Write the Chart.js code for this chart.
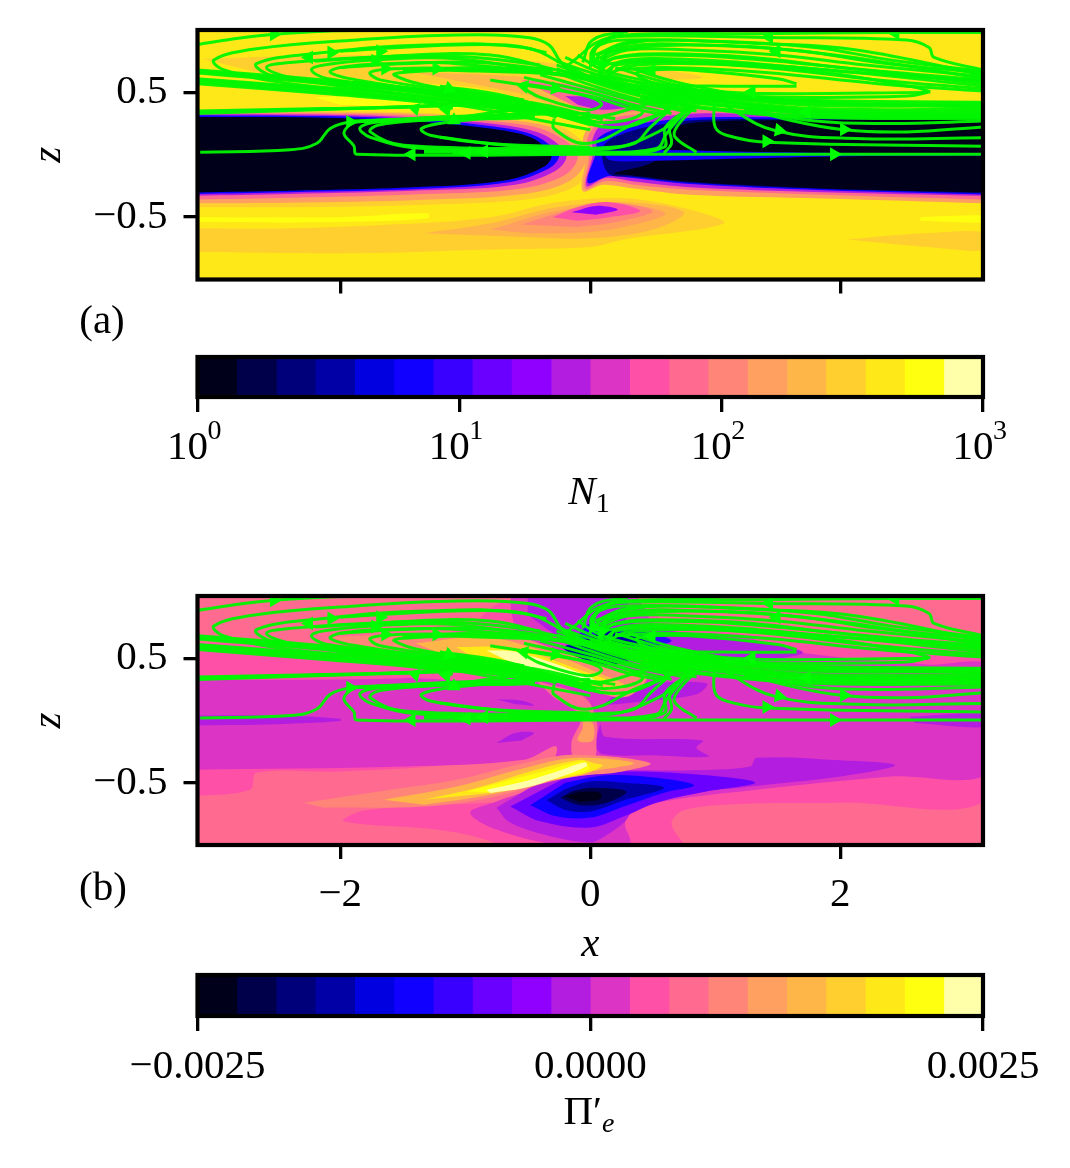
<!DOCTYPE html>
<html>
<head>
<meta charset="utf-8">
<script src="https://cdn.jsdelivr.net/npm/chart.js@4"></script>
<style>
  html, body { margin: 0; background: #fff; }
  #page { position: relative; width: 1070px; height: 1168px; overflow: hidden; }
  canvas { position: absolute; left: 0; }
  .lbl { position: absolute; font: 41px "Liberation Serif", serif; line-height: 40px; color: #000; white-space: nowrap; transform: translateX(-50%); }
  .lbl i { font-style: italic; }
  .lbl sub { font-size: 28px; line-height: 0; vertical-align: -8px; }
</style>
</head>
<body>
<div id="page">
  <canvas id="panelA" width="1070" height="340" style="top:0"></canvas>
  <canvas id="barA" width="1070" height="180" style="top:340px"></canvas>
  <canvas id="panelB" width="1070" height="410" style="top:560px"></canvas>
  <canvas id="barB" width="1070" height="168" style="top:970px"></canvas>
  <div class="lbl" style="left:102px;top:299px">(a)</div>
  <div class="lbl" style="left:103px;top:866px">(b)</div>
  <div class="lbl" style="left:589px;top:470px"><i>N</i><sub>1</sub></div>
  <div class="lbl" style="left:589px;top:1090px">Π′<sub><i>e</i></sub></div>
</div>
<script>
// 20 contour levels
const levelColors = ["#00001a", "#00004a", "#00007a", "#0000a6", "#0000e0", "#1000ff", "#3a00ff", "#6a00ff", "#8f00ff", "#b31de0",
  "#dc35c5", "#ff50a8", "#ff6a90", "#ff8578", "#ff9f60", "#ffb648", "#ffcf30", "#ffe818", "#ffff10", "#ffffaa"];
const edgesN1 = [1, 1.41, 2, 2.82, 3.98, 5.62, 7.94, 11.2, 15.8, 22.4, 31.6, 44.7, 63.1, 89.1, 126, 178, 251, 355, 501, 708, 1000];
const edgesPi = [-0.0025, -0.00225, -0.002, -0.00175, -0.0015, -0.00125, -0.001, -0.00075, -0.0005, -0.00025, 1e-9,
  0.00025, 0.0005, 0.00075, 0.001, 0.00125, 0.0015, 0.00175, 0.002, 0.00225, 0.0025];

const xTicks = [-2, 0, 2];
const zTicks = [-0.5, 0.5];
const ticksN1 = [1, 10, 100, 1000];
const labelsN1 = ["10", "10", "10", "10"];
const powersN1 = ["0", "1", "2", "3"];
const ticksPi = [-0.0025, 0, 0.0025];
const labelsPi = ["−0.0025", "0.0000", "0.0025"];

const field = [[-3.3, 1.1], [3.3, 1.1], [3.3, -1.1], [-3.3, -1.1]];

// panel (a): contour outlines in (x, z), painted in this order
const contoursA = [
  [17, field],
  // below the band
  [18, [[-3.2, -0.5], [-2, -0.5], [-1.3, -0.47], [-1.3, -0.51], [-2, -0.54], [-3.2, -0.54]]],
  [18, [[2.64, -0.5], [3.2, -0.49], [3.2, -0.54], [2.64, -0.53]]],
  [16, [[-3.2, -0.59], [-2.4, -0.59], [-1.6, -0.56], [-0.8, -0.5], [-0.27, -0.38], [0.3, -0.35], [0.8, -0.44], [1.07, -0.55], [0.27, -0.68], [0, -0.74], [-0.8, -0.76], [-1.87, -0.79], [-3.2, -0.78]]],
  [16, [[2.05, -0.68], [2.67, -0.63], [3.2, -0.63], [3.2, -0.76], [2.67, -0.74]]],
  [15, [[-1.33, -0.63], [-0.8, -0.55], [-0.27, -0.42], [0.3, -0.38], [0.75, -0.46], [0.5, -0.6], [0, -0.67], [-0.53, -0.66]]],
  [14, [[-0.8, -0.6], [-0.27, -0.45], [0.3, -0.4], [0.6, -0.47], [0.35, -0.56], [0, -0.62], [-0.5, -0.63]]],
  [13, [[-0.55, -0.56], [-0.27, -0.47], [0.1, -0.38], [0.5, -0.45], [0.2, -0.54], [-0.1, -0.58]]],
  [11, [[-0.3, -0.5], [-0.1, -0.42], [0.15, -0.38], [0.4, -0.45], [0.15, -0.5], [-0.1, -0.53]]],
  [8, [[-0.15, -0.46], [0.05, -0.41], [0.22, -0.44], [0.05, -0.48]]],
  // above the band
  [16, [[-3.1, 0.77], [-2, 0.8], [-1, 0.78], [-0.2, 0.72], [0.2, 0.6], [0.6, 0.42], [0.9, 0.35], [0.6, 0.3], [0.2, 0.25], [-0.1, 0.3], [-0.3, 0.35], [-0.8, 0.52], [-1.5, 0.58], [-2.5, 0.62]]],
  [16, [[0.13, 0.68], [0.5, 0.69], [0.9, 0.62], [0.5, 0.6], [0.2, 0.62]]],
  [18, [[-2.2, 0.46], [-1.4, 0.49], [-0.8, 0.44], [-0.55, 0.4], [-1.1, 0.37], [-2, 0.4]]],
  [15, [[-1.4, 0.66], [-0.8, 0.64], [-0.3, 0.6], [0.1, 0.52], [0.6, 0.4], [0.85, 0.34], [0.5, 0.3], [0.1, 0.28], [-0.2, 0.35], [-0.5, 0.48]]],
  [12, [[-0.55, 0.6], [-0.2, 0.57], [0.2, 0.5], [0.6, 0.38], [0.8, 0.34], [0.5, 0.3], [0.1, 0.3], [-0.15, 0.4]]],
  [9, [[-0.2, 0.47], [0.05, 0.46], [0.32, 0.39], [0.1, 0.36], [-0.1, 0.4]]],
  // left lobe of the band, outside in
  [16, [[-3.2, 0.35], [-2.13, 0.35], [-1.33, 0.335], [-0.8, 0.3], [-0.3, 0.25], [-0.05, 0.1], [0.03, -0.05], [-0.1, -0.24], [-0.45, -0.35], [-1.33, -0.4], [-2.4, -0.42], [-3.2, -0.42]]],
  [14, [[-3.2, 0.345], [-2.13, 0.34], [-1.33, 0.325], [-0.8, 0.29], [-0.35, 0.23], [-0.1, 0.1], [-0.03, -0.03], [-0.15, -0.2], [-0.5, -0.31], [-1.33, -0.36], [-2.4, -0.385], [-3.2, -0.39]]],
  [12, [[-3.2, 0.335], [-2.13, 0.33], [-1.33, 0.31], [-0.8, 0.27], [-0.4, 0.21], [-0.17, 0.09], [-0.1, -0.02], [-0.2, -0.16], [-0.55, -0.27], [-1.33, -0.315], [-2.4, -0.345], [-3.2, -0.36]]],
  [9, [[-3.2, 0.325], [-2.13, 0.32], [-1.33, 0.295], [-0.8, 0.25], [-0.42, 0.18], [-0.24, 0.07], [-0.19, -0.02], [-0.28, -0.13], [-0.6, -0.24], [-1.33, -0.285], [-2.4, -0.315], [-3.2, -0.33]]],
  [5, [[-3.2, 0.318], [-2.13, 0.31], [-1.33, 0.28], [-0.8, 0.23], [-0.47, 0.165], [-0.3, 0.06], [-0.25, -0.017], [-0.33, -0.11], [-0.65, -0.22], [-1.33, -0.272], [-2.4, -0.3], [-3.2, -0.315]]],
  [0, [[-3.2, 0.303], [-2.13, 0.297], [-1.33, 0.263], [-0.8, 0.21], [-0.48, 0.143], [-0.35, 0.049], [-0.31, -0.017], [-0.37, -0.097], [-0.67, -0.204], [-1.33, -0.257], [-2.4, -0.289], [-3.2, -0.303]]],
  // right lobe
  [14, [[3.2, 0.34], [1.6, 0.34], [0.9, 0.38], [0.5, 0.36], [0.1, 0.3], [-0.05, 0.16], [-0.04, -0.05], [-0.06, -0.29], [0.1, -0.24], [0.35, -0.27], [0.8, -0.32], [1.87, -0.35], [3.2, -0.39]]],
  [12, [[3.2, 0.33], [1.6, 0.33], [0.85, 0.36], [0.45, 0.33], [0.1, 0.27], [-0.02, 0.14], [-0.01, -0.03], [-0.04, -0.27], [0.12, -0.21], [0.35, -0.24], [0.8, -0.28], [1.87, -0.32], [3.2, -0.36]]],
  [9, [[3.2, 0.32], [1.6, 0.32], [0.85, 0.33], [0.45, 0.29], [0.1, 0.24], [0.02, 0.13], [0.02, 0], [-0.03, -0.25], [0.13, -0.185], [0.35, -0.215], [0.8, -0.26], [1.87, -0.3], [3.2, -0.33]]],
  [5, [[3.2, 0.31], [1.6, 0.3], [0.9, 0.3], [0.55, 0.27], [0.25, 0.22], [0.06, 0.13], [0.05, 0.03], [-0.02, -0.225], [0.15, -0.17], [0.32, -0.185], [0.8, -0.235], [1.87, -0.285], [3.2, -0.32]]],
  [2, [[3.2, 0.295], [1.6, 0.285], [0.88, 0.28], [0.55, 0.24], [0.3, 0.18], [0.12, 0.09], [0.1, -0.05], [0.16, -0.16], [0.32, -0.175], [0.8, -0.225], [1.87, -0.275], [3.2, -0.31]]],
  [0, [[3.2, 0.29], [1.6, 0.276], [0.88, 0.26], [0.64, 0.196], [0.53, -0.04], [0.19, -0.15], [0.32, -0.164], [0.8, -0.217], [1.87, -0.27], [3.2, -0.303]]],
  [5, [[3.2, 0.01], [2.2, 0.012], [1.5, 0.02], [0.12, 0.03], [0.15, -0.04], [0.4, -0.05], [1.2, -0.03], [2.2, -0.01], [3.2, -0.005]]]
];

// panel (b)
const contoursB = [
  [12, field],
  [11, [[-3.2, 0.63], [-2.4, 0.6], [-1.6, 0.62], [-1, 0.75], [-0.7, 0.95], [0.2, 1.05], [0.6, 0.8], [1, 0.72], [1.6, 0.66], [2.4, 0.58], [3.2, 0.56], [3.2, -0.61], [2, -0.66], [1.2, -0.67], [0.75, -0.72], [0.65, -0.83], [0.75, -1.05], [-3.2, -1.05]]],
  [12, [[-3.2, -0.61], [-2.72, -0.556], [-2.67, -0.42], [-2, -0.41], [-1.07, -0.35], [-0.5, -0.24], [-0.2, -0.15], [0.05, -0.1], [-0.1, -0.62], [-0.8, -0.66], [-1.8, -0.72], [-1.97, -0.81], [-1.2, -0.88], [-0.8, -0.97], [-0.7, -1.05], [-3.2, -1.05]]],
  [10, [[-3.2, 0.325], [-1.5, 0.34], [-0.6, 0.4], [-0.6, 1.05], [0.3, 1.05], [0.55, 0.75], [1.2, 0.68], [1.65, 0.55], [2.7, 0.45], [3.2, 0.42], [3.2, -0.405], [2.4, -0.45], [1.33, -0.556], [0.53, -0.66], [0.3, -0.75], [0.28, -0.85], [0.32, -0.96], [0.3, -1.05], [-0.27, -1], [-0.75, -0.876], [-0.96, -0.74], [-0.75, -0.65], [-0.4, -0.5], [-0.27, -0.21], [-0.53, -0.316], [-1.5, -0.37], [-3.2, -0.396]]],
  // small purple patches
  [9, [[-3.2, 0.04], [-2.5, 0.04], [-2, 0.015], [-2, -0.005], [-2.5, -0.03], [-3.2, -0.04]]],
  [9, [[2.55, 0.03], [3.2, 0.05], [3.2, -0.05], [2.6, -0.02]]],
  [9, [[-0.75, 0.17], [-0.55, 0.16], [-0.45, 0.12], [-0.6, 0.13]]],
  [9, [[-0.75, -0.18], [-0.6, -0.1], [-0.45, -0.1], [-0.55, -0.16]]],
  [9, [[0.08, -0.03], [0.12, -0.13], [0.9, -0.16], [0.85, -0.22], [0.95, -0.29], [0.5, -0.28], [0.1, -0.27], [0.03, -0.2]]],
  [9, [[0.3, 0.3], [0.93, 0.3], [0.85, 0.21], [0.4, 0.15], [0.1, 0.12]]],
  // top centre
  [9, [[-0.5, 1.05], [0.3, 1.05], [0.3, 0.8], [1, 0.68], [1.7, 0.55], [1.2, 0.47], [0.5, 0.5], [0.15, 0.45], [-0.1, 0.55], [-0.3, 0.7], [-0.5, 0.85]]],
  [6, [[-0.1, 0.68], [0, 0.78], [0.1, 0.75], [0.4, 0.72], [0.65, 0.64], [0.4, 0.58], [0.2, 0.6], [0, 0.45], [-0.1, 0.55]]],
  [3, [[0, 0.66], [0.1, 0.72], [0.25, 0.7], [0.45, 0.63], [0.3, 0.6], [0.15, 0.62], [0.05, 0.5], [-0.2, 0.6]]],
  [3, [[-0.25, 0.6], [0.05, 0.58], [0.3, 0.48], [0.1, 0.45], [-0.1, 0.5]]],
  // dark blob, outside in
  [9, [[-0.75, -0.7], [-0.64, -0.82], [-0.32, -0.93], [0, -0.98], [0.1, -0.94], [0.27, -0.82], [0.35, -0.72], [0.64, -0.61], [1.28, -0.53], [2, -0.45], [2.44, -0.36], [2, -0.32], [1.33, -0.3], [1.28, -0.37], [0.8, -0.4], [0.3, -0.4], [-0.2, -0.42], [-0.5, -0.55]]],
  [7, [[-0.64, -0.69], [-0.4, -0.81], [0, -0.86], [0.27, -0.77], [0.53, -0.66], [0.93, -0.57], [1.32, -0.5], [0.93, -0.44], [0.27, -0.41], [-0.2, -0.46]]],
  [5, [[-0.48, -0.68], [-0.27, -0.77], [0, -0.78], [0.27, -0.69], [0.59, -0.58], [0.83, -0.52], [0.53, -0.46], [0.13, -0.44], [-0.2, -0.5]]],
  [3, [[-0.35, -0.64], [-0.19, -0.72], [0, -0.73], [0.27, -0.64], [0.59, -0.54], [0.27, -0.5], [0, -0.49], [-0.2, -0.55]]],
  [1, [[-0.24, -0.62], [-0.08, -0.68], [0.13, -0.66], [0.29, -0.57], [0, -0.54], [-0.15, -0.57]]],
  [0, [[-0.2, -0.61], [-0.08, -0.575], [0.08, -0.58], [0.08, -0.63], [-0.08, -0.655]]],
  // column between the two ridges
  [12, [[-0.43, 0.32], [-0.05, 0.19], [0.05, 0], [0.05, -0.16], [0.03, -0.3], [-0.12, -0.32], [-0.15, -0.18], [-0.08, 0.03], [-0.3, 0.19]]],
  [14, [[-0.06, 0], [0.02, -0.02], [0.02, -0.16], [-0.1, -0.16], [-0.06, -0.06]]],
  // lower ridge
  [13, [[-2.29, -0.66], [-1.6, -0.556], [-1.07, -0.476], [-0.53, -0.343], [-0.13, -0.276], [0.48, -0.343], [0.2, -0.42], [0, -0.436], [-0.27, -0.48], [-0.8, -0.62], [-1.33, -0.69], [-2.13, -0.7]]],
  [15, [[-1.65, -0.636], [-1.07, -0.53], [-0.53, -0.383], [-0.11, -0.3], [0.35, -0.343], [0, -0.41], [-0.27, -0.463], [-0.8, -0.596], [-1.33, -0.676]]],
  [17, [[-1.33, -0.636], [-0.91, -0.543], [-0.48, -0.41], [-0.08, -0.316], [0.03, -0.343], [0.1, -0.36], [-0.03, -0.423], [-0.37, -0.49], [-0.8, -0.583]]],
  [18, [[-0.99, -0.57], [-0.72, -0.5], [-0.37, -0.41], [-0.05, -0.33], [-0.01, -0.396], [-0.37, -0.476], [-0.8, -0.577]]],
  [19, [[-0.83, -0.556], [-0.53, -0.49], [-0.27, -0.41], [-0.04, -0.335], [-0.03, -0.37], [-0.27, -0.463], [-0.53, -0.543], [-0.8, -0.583]]],
  // upper ridge
  [13, [[-2.08, 0.67], [-1.33, 0.7], [-0.67, 0.7], [-0.4, 0.617], [0.13, 0.43], [0.45, 0.35], [0.29, 0.19], [0, 0.244], [-0.27, 0.35], [-0.8, 0.47], [-1.87, 0.6]]],
  [15, [[-1.4, 0.62], [-0.85, 0.67], [-0.4, 0.564], [0.08, 0.377], [0.29, 0.27], [-0.05, 0.257], [-0.53, 0.38], [-1.2, 0.54]]],
  [17, [[-1.07, 0.59], [-0.61, 0.577], [0, 0.377], [0.13, 0.32], [-0.13, 0.297], [-0.67, 0.43], [-0.99, 0.54]]],
  [19, [[-0.83, 0.564], [-0.59, 0.55], [-0.03, 0.364], [0.03, 0.324], [-0.19, 0.337], [-0.67, 0.484]]]
];

// streamlines, same field drawn over both panels
const streamlines = [
  [[-3.14, 0.885], [-2.8, 0.935], [-2.53, 0.965], [-2.13, 0.99], [-1.6, 1]],
  [[0.8, 0.43], [0.2, 0.55], [-0.1, 0.63], [-0.24, 0.75], [-0.33, 0.88], [-0.5, 0.94], [-1.07, 0.96], [-1.87, 0.92], [-2.67, 0.85], [-3.01, 0.76], [-2.93, 0.68], [-2.4, 0.57], [-1.6, 0.5], [-0.8, 0.41], [-0.27, 0.33], [0.1, 0.22]],
  [[0.6, 0.45], [0.1, 0.58], [-0.2, 0.72], [-0.53, 0.86], [-1.33, 0.88], [-2.13, 0.82], [-2.67, 0.73], [-2.53, 0.63], [-1.6, 0.53], [-0.53, 0.37], [0, 0.26]],
  [[0.7, 0.44], [0, 0.63], [-0.27, 0.68], [-0.8, 0.8], [-1.6, 0.79], [-2.4, 0.74], [-2.59, 0.7], [-2.4, 0.62], [-1.33, 0.46], [-0.53, 0.36]],
  [[0.5, 0.47], [0, 0.62], [-0.27, 0.65], [-1.07, 0.77], [-1.73, 0.76], [-2.13, 0.72], [-2.23, 0.68], [-2.1, 0.61], [-1.07, 0.48], [-0.48, 0.32]],
  [[0.4, 0.48], [0, 0.6], [-1.07, 0.73], [-1.65, 0.73], [-2, 0.7], [-2.08, 0.66], [-1.87, 0.6], [-0.8, 0.44]],
  [[0.5, 0.5], [0, 0.62], [-1.07, 0.69], [-1.55, 0.69], [-1.76, 0.66], [-1.68, 0.6], [-0.8, 0.46], [-0.27, 0.3]],
  [[0.4, 0.52], [0, 0.62], [-1.07, 0.676], [-1.5, 0.66], [-1.57, 0.64], [-1.33, 0.56], [-0.53, 0.44]],
  [[-2, 0.83], [-1.33, 0.87], [-0.67, 0.88], [-0.35, 0.82]],
  [[-2.2, 0.75], [-1.6, 0.785], [-1, 0.785], [-0.4, 0.72]],
  [[-2, 0.7], [-1.5, 0.73], [-0.9, 0.74], [-0.3, 0.68]],
  [[-1.5, 0.67], [-0.9, 0.7], [-0.3, 0.66]],
  // bands from the left edge
  [[-3.14, 0.68], [-2.13, 0.6], [-1.07, 0.49], [-0.27, 0.34], [0, 0.28]],
  [[-3.14, 0.665], [-2.13, 0.585], [-1.07, 0.475], [-0.4, 0.33]],
  [[-3.14, 0.655], [-2.13, 0.57], [-1.07, 0.46], [-0.5, 0.335]],
  [[-3.14, 0.61], [-2.13, 0.53], [-1.07, 0.42], [-0.5, 0.33]],
  [[-3.14, 0.6], [-2.13, 0.52], [-1.07, 0.4], [-0.53, 0.3], [0, 0.2]],
  [[-3.14, 0.585], [-2.13, 0.505], [-1.33, 0.43], [-1.1, 0.37]],
  [[-3.14, 0.57], [-2.13, 0.49], [-1.33, 0.42], [-1.15, 0.37]],
  [[-1.2, 0.55], [-0.67, 0.45], [-0.27, 0.38], [0.1, 0.28]],
  [[-1.2, 0.52], [-0.67, 0.43], [-0.27, 0.35], [0.05, 0.26]],
  [[-1.07, 0.5], [-0.67, 0.41], [-0.27, 0.32], [0, 0.24]],
  [[-0.8, 0.47], [-0.27, 0.36], [0.2, 0.29]],
  [[-3.14, 0.35], [-2.13, 0.37], [-1.47, 0.38], [-1.17, 0.4], [-0.67, 0.39], [-0.45, 0.335]],
  [[-3.14, 0.34], [-2, 0.37], [-1.2, 0.39]],
  [[-3.14, 0.33], [-1.87, 0.37], [-1.07, 0.395], [-0.5, 0.35], [-0.46, 0.3], [-1.07, 0.29], [-1.6, 0.28], [-1.92, 0.26]],
  [[-1.9, 0.27], [-1.2, 0.3], [-0.6, 0.32]],
  [[-1.8, 0.26], [-1, 0.29], [-0.5, 0.31]],
  [[-1.92, 0.25], [-1.97, 0.17], [-1.89, 0.07], [-1.87, 0.005], [0, 0.005], [0.85, 0.005], [3.14, 0.005]],
  [[-1.33, 0.03], [-0.6, 0.035], [0, 0.03]],
  [[-1.33, 0.02], [-0.6, 0.02], [0, 0.02]],
  [[-1.1, 0.012], [0, 0.012]],
  [[-3.12, 0.02], [-2.4, 0.04], [-2.19, 0.09], [-2.08, 0.21], [-1.92, 0.26], [-1.07, 0.3], [-0.53, 0.36], [0, 0.3], [0.5, 0.42]],
  [[0, 0.05], [-1.33, 0.05], [-1.76, 0.14], [-1.84, 0.22], [-1.6, 0.276], [-0.8, 0.316], [0, 0.33]],
  [[0, 0.05], [-1.49, 0.076], [-1.76, 0.183], [-1.7, 0.236], [-1.33, 0.276], [-0.45, 0.33]],
  [[0, 0.06], [-0.8, 0.09], [-1.28, 0.156], [-1.35, 0.21], [-1.12, 0.263], [-0.48, 0.316]],
  // hairpins round the ridge
  [[-0.55, 0.57], [-0.29, 0.53], [0.03, 0.45], [0.09, 0.4], [-0.03, 0.36], [-0.4, 0.46], [-0.53, 0.53]],
  [[-1.2, 0.55], [-0.67, 0.47], [0, 0.27], [0.25, 0.27], [0.42, 0.34], [0.32, 0.4], [0, 0.5]],
  [[-0.53, 0.41], [-0.1, 0.27], [0.25, 0.22], [0.55, 0.32], [0.6, 0.37], [0.45, 0.46]],
  [[-0.29, 0.29], [-0.29, 0.21], [-0.03, 0.09], [0.35, 0.25], [0.69, 0.42], [0.53, 0.57]],
  [[-1.2, 0.14], [-0.67, 0.076], [-0.03, 0.036], [0.4, 0.116], [0.77, 0.38], [0.61, 0.57]],
  [[-1.2, 0.036], [-0.03, 0.023], [0.53, 0.05], [0.61, 0.17], [0.8, 0.4]],
  // fan below the crossing
  [[0.85, 0.4], [0.69, 0.22], [0.68, 0.14], [0.85, 0.02]],
  [[0.83, 0.4], [0.64, 0.22], [0.65, 0.09], [0.59, 0.015]],
  [[0.8, 0.38], [0.6, 0.22], [0.59, 0.06], [0.16, 0.01], [0, 0.01]],
  [[0.69, 0.41], [0.48, 0.22], [0.35, 0.09], [0, 0.05]],
  // to the right edge
  [[0.99, 0.4], [1, 0.22], [1.09, 0.156], [1.41, 0.1], [3.14, 0.068]],
  [[1.07, 0.4], [1.47, 0.196], [2.13, 0.13], [3.14, 0.137]],
  [[1.15, 0.4], [1.6, 0.276], [2.03, 0.2], [2.53, 0.183], [3.14, 0.223]],
  [[1.23, 0.37], [1.8, 0.27], [2.4, 0.25], [3.14, 0.27]],
  // upper right loops
  [[3.14, 0.98], [2.4, 0.98], [1.33, 0.97], [0.27, 0.96], [0.05, 0.9], [-0.1, 0.78], [-0.2, 0.7]],
  [[3.14, 0.68], [2.75, 0.78], [2.71, 0.86], [2.53, 0.92], [1.4, 0.94], [0.27, 0.95], [0.08, 0.9], [0, 0.8]],
  [[3.14, 0.67], [2.4, 0.76], [1.8, 0.86], [1, 0.91], [0.3, 0.9], [0.04, 0.8]],
  [[3.14, 0.655], [2.3, 0.74], [1.7, 0.83], [0.9, 0.88], [0.3, 0.87], [0.06, 0.77]],
  [[3.14, 0.64], [2.13, 0.84], [1.4, 0.89], [0.27, 0.92], [0.03, 0.85], [0, 0.7]],
  [[3.14, 0.63], [2.2, 0.72], [1.5, 0.8], [0.8, 0.84], [0.3, 0.84], [0.08, 0.76]],
  [[3.14, 0.61], [1.87, 0.81], [0.8, 0.88], [0.08, 0.81], [0.05, 0.72]],
  [[3.14, 0.6], [2, 0.7], [1.3, 0.78], [0.6, 0.81], [0.2, 0.78], [0.1, 0.7]],
  [[3.14, 0.59], [2, 0.67], [1.2, 0.74], [0.6, 0.77], [0.25, 0.75], [0.12, 0.66]],
  [[3.14, 0.57], [1.6, 0.74], [0.53, 0.8], [0.08, 0.74], [0.1, 0.65]],
  [[3.14, 0.55], [1.9, 0.68], [0.9, 0.74], [0.2, 0.72], [0.15, 0.63]],
  [[3.14, 0.53], [2.3, 0.6], [1.4, 0.7], [0.8, 0.73], [0.3, 0.71], [0.14, 0.64]],
  [[3.14, 0.51], [2.3, 0.57], [1.4, 0.66], [0.6, 0.7], [0.2, 0.68]],
  [[0.2, 0.96], [0.05, 0.86], [0.02, 0.74]],
  [[0.3, 0.99], [0.02, 0.92], [-0.06, 0.74]],
  [[0.45, 0.92], [0.15, 0.84], [0.1, 0.7]],
  [[2.72, 0.505], [2.6, 0.54], [1.87, 0.66], [0.8, 0.74], [0.16, 0.73], [0.08, 0.62], [0.3, 0.52], [0.8, 0.49], [1.6, 0.46], [2.53, 0.47], [2.72, 0.505]],
  [[2.7, 0.5], [1.4, 0.49], [0.8, 0.52], [0.3, 0.55]],
  [[1.65, 0.57], [1.5, 0.61], [0.8, 0.68], [0.48, 0.68], [0.37, 0.65], [0.53, 0.57], [1.07, 0.55], [1.65, 0.55]],
  // lower right band
  [[3.14, 0.42], [1.6, 0.44], [1.07, 0.49], [0.27, 0.6], [0, 0.65]],
  [[3.14, 0.41], [1.8, 0.41], [1, 0.47], [0.5, 0.52]],
  [[3.14, 0.395], [1.8, 0.395], [1, 0.46], [0.5, 0.5]],
  [[3.14, 0.38], [2.13, 0.41], [1.07, 0.47], [0.27, 0.57]],
  [[3.14, 0.365], [1.8, 0.37], [1, 0.44], [0.45, 0.49]],
  [[3.14, 0.35], [1.87, 0.35], [1.2, 0.41], [0.53, 0.5]],
  [[3.14, 0.335], [1.8, 0.345], [1.05, 0.42], [0.45, 0.48]],
  [[3.14, 0.32], [1.87, 0.33], [1.07, 0.39], [0.4, 0.47]],
  [[3.14, 0.31], [1.8, 0.325], [1.05, 0.4], [0.45, 0.46]],
  [[3.14, 0.3], [1.73, 0.31], [1, 0.37], [0.4, 0.45]],
  [[3.14, 0.29], [1.75, 0.3], [1, 0.36], [0.5, 0.43]],
  // bundle through the crossing
  [[-0.1, 0.8], [0.1, 0.68], [0.5, 0.58], [1.1, 0.44]],
  [[-0.2, 0.78], [0.05, 0.67], [0.45, 0.56], [1, 0.43]],
  [[0.2, 0.7], [0.6, 0.58], [1.2, 0.45]],
  [[0.3, 0.7], [0.7, 0.58], [1.3, 0.46]],
  [[-0.27, 0.75], [0, 0.66], [0.4, 0.54], [0.95, 0.42]],
  [[-0.27, 0.72], [0, 0.62], [0.4, 0.5], [0.88, 0.41]],
  [[-0.27, 0.69], [0, 0.59], [0.4, 0.47], [0.88, 0.38]],
  [[-0.27, 0.66], [0, 0.56], [0.4, 0.44], [0.85, 0.35]],
  [[-0.4, 0.64], [0, 0.53], [0.4, 0.42], [0.75, 0.35]],
  [[-0.53, 0.62], [0, 0.5], [0.35, 0.4], [0.65, 0.33]],
  [[-0.8, 0.6], [0, 0.47], [0.3, 0.38], [0.6, 0.32]]
];

// arrow heads: x, z, heading in degrees clockwise from up
const arrowX = [-2.53, -2.25, -2.07, -1.68, -1.72, -1.64, -1.23, -1.13, -1.4, -1.15, -1.92, -1.09, -0.53, -0.28, -1.43, -0.99, -0.85,
  1.43, 2.44, 1.49, 0.49, 1.29, 1.73, 1.51, 2.03, 1.41, 1.95, 0.09, 0.03];
const arrowZ = [0.965, 0.78, 0.82, 0.83, 0.755, 0.69, 0.69, 0.53, 0.37, 0.36, 0.263, 0.276, 0.55, 0.53, 0.004, 0.015, 0.028,
  0.943, 0.975, 0.83, 0.676, 0.503, 0.343, 0.196, 0.203, 0.108, 0.004, 0.72, 0.75];
const arrowAngle = [90, 270, 90, 90, 90, 90, 90, 110, 165, 160, 90, 240, 280, 100, 270, 270, 270,
  270, 270, 270, 270, 270, 270, 100, 90, 90, 90, 200, 340];

const serif = "'Liberation Serif', serif";

function framePlugin() {
  return {
    id: "frame",
    afterDraw(chart) {
      const { ctx, chartArea: a } = chart;
      ctx.save();
      ctx.strokeStyle = "#000";
      ctx.lineWidth = 4.2;
      ctx.strokeRect(a.left, a.top, a.right - a.left, a.bottom - a.top);
      ctx.restore();
    },
  };
}

// exponents of the log colour bar sit beside the tick's "10"
function powerPlugin(powers, vals) {
  return {
    id: "powers",
    afterDraw(chart) {
      const { ctx, scales } = chart;
      ctx.save();
      ctx.fillStyle = "#000";
      ctx.font = `28px ${serif}`;
      ctx.textAlign = "left";
      ctx.textBaseline = "alphabetic";
      vals.forEach((v, i) => {
        ctx.fillText(powers[i], scales.x.getPixelForValue(v) + 10, chart.chartArea.bottom + 42);
      });
      ctx.restore();
    },
  };
}

function panelDatasets(contours) {
  const layers = contours.map(([lv, pts]) => ({
    type: "scatter",
    showLine: true,
    data: pts.map(([x, y]) => ({ x, y })),
    fill: "shape",
    backgroundColor: levelColors[lv],
    borderWidth: 0,
    pointRadius: 0,
    tension: pts === field ? 0 : 0.35,
  }));
  const lines = streamlines.map((pts) => ({
    type: "scatter",
    showLine: true,
    data: pts.map(([x, y]) => ({ x, y })),
    borderColor: "rgba(0,245,0,0.95)",
    borderWidth: 3,
    pointRadius: 0,
    tension: 0.4,
    fill: false,
  }));
  const arrows = {
    type: "scatter",
    data: arrowX.map((x, i) => ({ x, y: arrowZ[i] })),
    pointStyle: "triangle",
    rotation: arrowAngle,
    pointRadius: 8,
    backgroundColor: "#00ff00",
    borderWidth: 0,
  };
  // chart.js paints the first dataset last
  return [arrows, ...lines.reverse(), ...layers.reverse()];
}

function drawPanel(id, contours, top, bottomH, showX) {
  new Chart(document.getElementById(id), {
    type: "scatter",
    data: { datasets: panelDatasets(contours) },
    plugins: [framePlugin()],
    options: {
      responsive: false,
      animation: false,
      devicePixelRatio: 1,
      layout: { padding: { left: 0, right: 87, top, bottom: 0 } },
      plugins: { legend: { display: false }, tooltip: { enabled: false } },
      scales: {
        x: {
          type: "linear",
          min: -Math.PI,
          max: Math.PI,
          afterBuildTicks: (s) => { s.ticks = xTicks.map((value) => ({ value })); },
          afterFit: (s) => { s.height = bottomH; s.paddingLeft = 0; s.paddingRight = 0; },
          grid: { drawOnChartArea: false, tickLength: 14, lineWidth: 3.3, color: "#000" },
          border: { display: false },
          ticks: {
            display: showX,
            color: "#000",
            padding: 12,
            maxRotation: 0,
            font: { family: serif, size: 41 },
            callback: (v) => String(v).replace("-", "−"),
          },
          title: {
            display: showX,
            text: "x",
            color: "#000",
            padding: 0,
            font: { family: serif, size: 41, style: "italic" },
          },
        },
        y: {
          type: "linear",
          min: -1,
          max: 1,
          afterBuildTicks: (s) => { s.ticks = zTicks.map((value) => ({ value })); },
          afterFit: (s) => { s.width = 197.5; s.paddingTop = 0; s.paddingBottom = 0; },
          grid: { drawOnChartArea: false, tickLength: 14, lineWidth: 3.3, color: "#000" },
          border: { display: false },
          ticks: {
            color: "#000",
            padding: 16,
            font: { family: serif, size: 41 },
            callback: (v) => String(v).replace("-", "−"),
          },
          title: {
            display: true,
            text: "z",
            color: "#000",
            padding: { top: 25, bottom: 0 },
            font: { family: serif, size: 41, style: "italic" },
          },
        },
      },
    },
  });
}

function drawBar(id, edges, scaleType, tickVals, tickLabels, top, bottomH, powers) {
  new Chart(document.getElementById(id), {
    type: "bar",
    data: {
      labels: [""],
      datasets: levelColors.map((c, i) => ({
        data: [[edges[i], edges[i + 1]]],
        backgroundColor: c,
        grouped: false,
        barPercentage: 1,
        categoryPercentage: 1,
        inflateAmount: 0.4,
        borderWidth: 0,
      })),
    },
    plugins: powers ? [framePlugin(), powerPlugin(powers, tickVals)] : [framePlugin()],
    options: {
      responsive: false,
      animation: false,
      devicePixelRatio: 1,
      indexAxis: "y",
      layout: { padding: { left: 197.5, right: 87, top, bottom: 0 } },
      plugins: { legend: { display: false }, tooltip: { enabled: false } },
      scales: {
        x: {
          type: scaleType,
          min: edges[0],
          max: edges[edges.length - 1],
          afterBuildTicks: (s) => { s.ticks = tickVals.map((value) => ({ value })); },
          afterFit: (s) => { s.height = bottomH; s.paddingLeft = 0; s.paddingRight = 0; },
          grid: { drawOnChartArea: false, tickLength: 15, lineWidth: 3.3, color: "#000" },
          border: { display: false },
          ticks: {
            color: "#000",
            padding: 12,
            maxRotation: 0,
            autoSkip: false,
            labelOffset: powers ? -10 : 0,
            font: { family: serif, size: 41 },
            callback: (v) => tickLabels[tickVals.indexOf(v)],
          },
        },
        y: { display: false },
      },
    },
  });
}

drawPanel("panelA", contoursA, 30, 60.5, false);
drawPanel("panelB", contoursB, 36, 125, true);
drawBar("barA", edgesN1, "logarithmic", ticksN1, labelsN1, 17, 123, powersN1);
drawBar("barB", edgesPi, "linear", ticksPi, labelsPi, 5, 122);
</script>
</body>
</html>
